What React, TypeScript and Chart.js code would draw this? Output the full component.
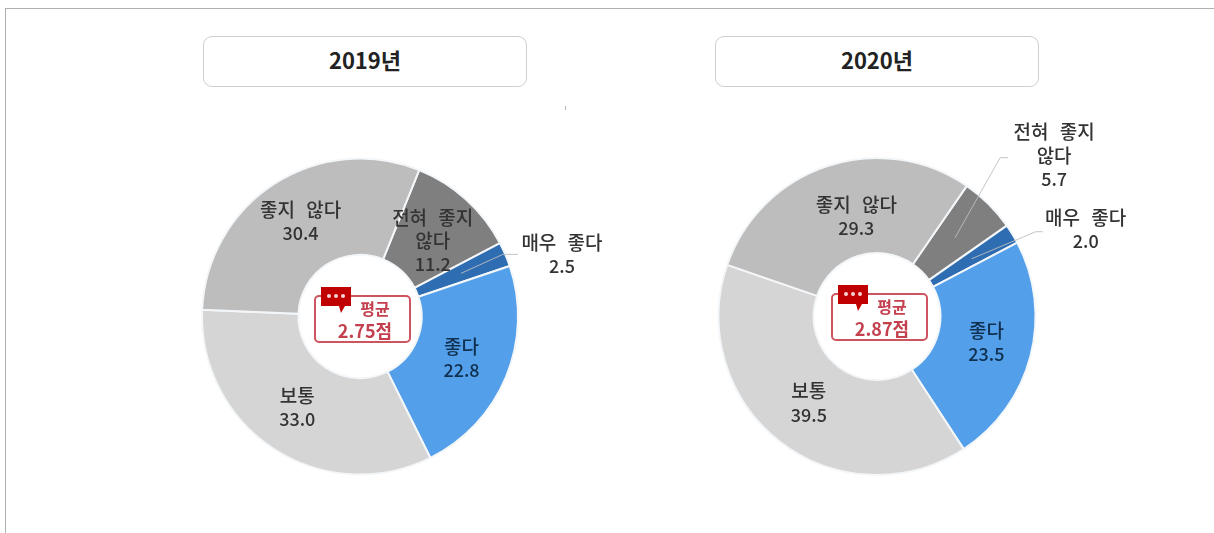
import React, { useEffect, useRef } from "react";
import { Chart, registerables } from "chart.js";

Chart.register(...registerables);

const categories = ["전혀 좋지 않다", "매우 좋다", "좋다", "보통", "좋지 않다"];
const values2019 = [11.2, 2.5, 22.8, 33.0, 30.4];
const values2020 = [5.7, 2.0, 23.5, 39.5, 29.3];
const sliceColors = ["#7f7f7f", "#2f6db3", "#539fe9", "#d5d5d5", "#bdbdbd"];
const wrappedNames: Record<string, string[]> = { "전혀 좋지 않다": ["전혀 좋지", "않다"] };

const FONT = '"Noto Sans CJK KR", "Noto Sans", sans-serif';

type Place = { dx: number; dy: number; leader?: [number, number][] };

const places2019: Place[] = [
  { dx: -1, dy: 6 },
  { dx: 101, dy: -19, leader: [[42, -19], [57, -19]] },
  { dx: 0, dy: 0 },
  { dx: -3, dy: -1 },
  { dx: 0, dy: -3 },
];
const places2020: Place[] = [
  { dx: 99, dy: -82, leader: [[45, -80], [53, -80]] },
  { dx: 114, dy: -29, leader: [[64, -27], [71, -27]] },
  { dx: 2, dy: -2 },
  { dx: 0, dy: -1 },
  { dx: 14, dy: 5 },
];

const labelPlugin = (values: number[], places: Place[]) => ({
  id: "sliceLabels",
  afterDatasetsDraw(chart: any) {
    const ctx = chart.ctx;
    const arcs = chart.getDatasetMeta(0).data;
    ctx.save();
    arcs.forEach((arc: any, i: number) => {
      const p = arc.tooltipPosition();
      const place = places[i];
      if (place.leader) {
        ctx.strokeStyle = "rgba(190,190,190,0.9)";
        ctx.lineWidth = 1;
        ctx.beginPath();
        ctx.moveTo(p.x, p.y);
        place.leader.forEach(([x, y]) => ctx.lineTo(p.x + x, p.y + y));
        ctx.stroke();
      }
    });
    ctx.textAlign = "center";
    ctx.textBaseline = "middle";
    arcs.forEach((arc: any, i: number) => {
      const p = arc.tooltipPosition();
      const place = places[i];
      const name = categories[i];
      const names = wrappedNames[name] ?? [name];
      const total = names.length + 1;
      const top = p.y + place.dy - ((total - 1) * 23.5) / 2;
      ctx.fillStyle = name === "좋다" ? "#10304f" : "#333333";
      ctx.font = `500 19px ${FONT}`;
      ctx.wordSpacing = "7px";
      names.forEach((t, k) => ctx.fillText(t, p.x + place.dx, top + k * 23.5));
      ctx.font = `500 18px ${FONT}`;
      ctx.wordSpacing = "0px";
      ctx.fillText(values[i].toFixed(1), p.x + place.dx, top + names.length * 23.5);
    });
    ctx.restore();
  },
});

function Donut(props: {
  values: number[];
  places: Place[];
  rotation: number;
  cutout: string;
  left: number;
  padding: { left: number; right: number; top: number; bottom: number };
}) {
  const ref = useRef<HTMLCanvasElement>(null);
  useEffect(() => {
    const chart = new Chart(ref.current as HTMLCanvasElement, {
      type: "doughnut",
      data: {
        labels: categories,
        datasets: [
          {
            data: props.values,
            backgroundColor: sliceColors,
            borderColor: "#f4f7fa",
            borderWidth: 2,
          },
        ],
      },
      options: {
        responsive: false,
        animation: false,
        rotation: props.rotation,
        cutout: props.cutout,
        layout: { padding: props.padding },
        plugins: { legend: { display: false }, tooltip: { enabled: false } },
      },
      plugins: [labelPlugin(props.values, props.places)],
    } as any);
    return () => chart.destroy();
  }, []);
  return (
    <canvas
      ref={ref}
      width={607}
      height={533}
      style={{ position: "absolute", left: props.left, top: 0, width: 607, height: 533 }}
    />
  );
}

function TitleBox({ text, left }: { text: string; left: number }) {
  return (
    <div
      style={{
        position: "absolute",
        left,
        top: 36,
        width: 324,
        height: 51,
        boxSizing: "border-box",
        border: "1px solid #cfcfcf",
        borderRadius: 9,
        background: "#fff",
        textAlign: "center",
        font: `700 22px/45px ${FONT}`,
        color: "#222",
      }}
    >
      {text}
    </div>
  );
}

function Badge({ left, top, text }: { left: number; top: number; text: string }) {
  return (
    <div style={{ position: "absolute", left, top, width: 97, height: 48, zIndex: 3 }}>
      <div
        style={{
          position: "absolute",
          inset: 0,
          boxSizing: "border-box",
          border: "2px solid #cc5560",
          borderRadius: 5,
        }}
      />
      <svg
        width="32"
        height="28"
        viewBox="0 0 32 28"
        style={{ position: "absolute", left: 6, top: -8 }}
      >
        <path d="M1 0H31V19H25L21 26L19 19H1Z" fill="#c00000" />
        <circle cx="9" cy="9" r="2" fill="#f5d5d5" />
        <circle cx="16" cy="9" r="2" fill="#f5d5d5" />
        <circle cx="23" cy="9" r="2" fill="#f5d5d5" />
      </svg>
      <div
        style={{
          position: "absolute",
          left: 42,
          top: 1,
          width: 38,
          textAlign: "center",
          font: `700 16px/24px ${FONT}`,
          color: "#c4404e",
        }}
      >
        평균
      </div>
      <div
        style={{
          position: "absolute",
          left: 14,
          top: 24,
          width: 74,
          textAlign: "center",
          font: `700 18px/23px ${FONT}`,
          color: "#c4404e",
        }}
      >
        {text}
      </div>
    </div>
  );
}

export default function App() {
  return (
    <div
      style={{
        position: "fixed",
        inset: 0,
        background: "#fff",
        overflow: "hidden",
        filter: "blur(0.6px)",
      }}
    >
      <div style={{ position: "absolute", left: 5, top: 8, right: 0, height: 1, background: "#b0b0b0" }} />
      <div style={{ position: "absolute", left: 5, top: 8, bottom: 0, width: 1, background: "#b0b0b0" }} />
      <div style={{ position: "absolute", left: 565, top: 106, width: 1, height: 4, background: "#b5b5b5" }} />
      <TitleBox text="2019년" left={203} />
      <TitleBox text="2020년" left={715} />
      <Donut
        values={values2019}
        places={places2019}
        rotation={22}
        cutout="39%"
        left={0}
        padding={{ left: 201, right: 88, top: 157, bottom: 57 }}
      />
      <Donut
        values={values2020}
        places={places2020}
        rotation={34.5}
        cutout="40%"
        left={607}
        padding={{ left: 110, right: 177, top: 157, bottom: 57 }}
      />
      <Badge left={314} top={295} text="2.75점" />
      <Badge left={831} top={293} text="2.87점" />
    </div>
  );
}
